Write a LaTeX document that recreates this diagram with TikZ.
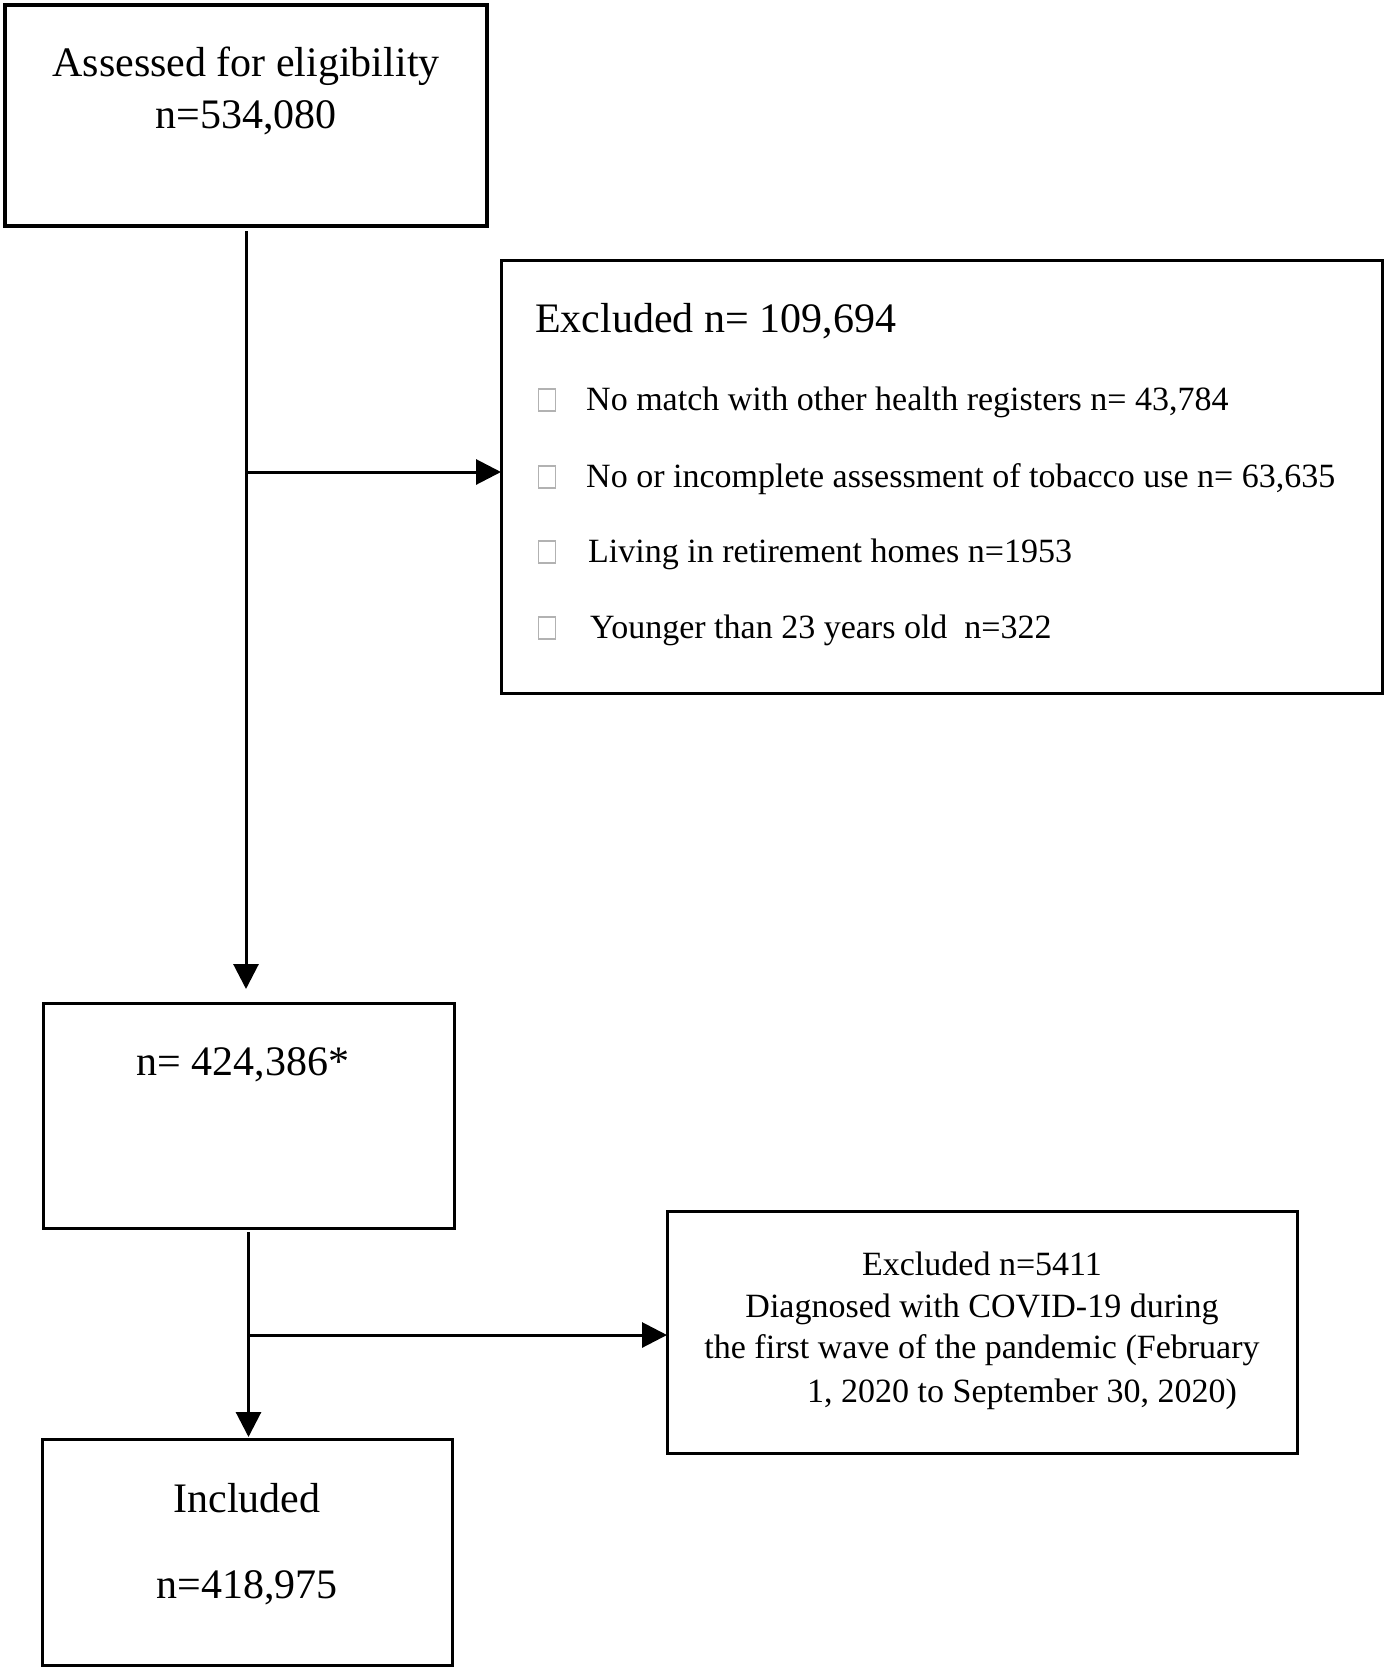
\documentclass[tikz,border=0pt]{standalone}
\usepackage{fontspec}
\setmainfont{Liberation Serif}
\usetikzlibrary{arrows.meta}
\begin{document}
\begin{tikzpicture}[x=1pt,y=-1pt,
  box/.style={draw=black, line width=3pt, inner sep=0pt, outer sep=0pt},
  big/.style={font=\fontsize{42}{50}\selectfont, inner sep=0pt, anchor=base},
  small/.style={font=\fontsize{34}{42}\selectfont, inner sep=0pt, anchor=base},
  chk/.style={draw=gray!60, line width=1.5pt, minimum width=17pt, minimum height=22pt, inner sep=0pt},
  conn/.style={line width=3pt, draw=black},
  arr/.style={conn, -{Triangle[length=25pt,width=25pt]}}]
\useasboundingbox (0,0) rectangle (1386,1670);

% boxes
\node[box, line width=3.5pt, minimum width=482pt, minimum height=221pt] (b1) at (246,115.5) {};
\node[box, minimum width=881pt, minimum height=433pt] (excl) at (941.5,476.5) {};
\node[box, minimum width=411pt, minimum height=225pt] (b2) at (248.5,1115.5) {};
\node[box, minimum width=630pt, minimum height=242pt] (excl2) at (982,1332) {};
\node[box, minimum width=410pt, minimum height=226pt] (b3) at (247,1552) {};

% box 1 text
\node[big] (t1a) at (246,77) {Assessed for eligibility};
\node[big] (t1b) at (246,128) {n=534,080};

% excluded box text
\node[big, anchor=base west] (ex0) at (535,332) {Excluded n= 109,694};
\node[chk] (c1) at (547,400) {};
\node[chk] (c2) at (547,477) {};
\node[chk] (c3) at (547,552) {};
\node[chk] (c4) at (547,628) {};
\node[small, anchor=base west] (ex1) at (586,410) {No match with other health registers n= 43,784};
\node[small, anchor=base west] (ex2) at (586,487) {No or incomplete assessment of tobacco use n= 63,635};
\node[small, anchor=base west] (ex3) at (588,562) {Living in retirement homes n=1953};
\node[small, anchor=base west] (ex4) at (590,638) {Younger than 23 years old\ \ n=322};

% box 2 text
\node[big] (t2) at (243,1075) {n= 424,386*};

% excluded 2 text
\node[small] (e2a) at (982,1275) {Excluded n=5411};
\node[small] (e2b) at (982,1317) {Diagnosed with COVID-19 during};
\node[small] (e2c) at (982,1358) {the first wave of the pandemic (February};
\node[small] (e2d) at (1022,1402) {1, 2020 to September 30, 2020)};

% box 3 text
\node[big] (t3a) at (247,1512) {Included};
\node[big] (t3b) at (247,1598) {n=418,975};

% connectors
\coordinate (j1) at (b1.south |- 0,472);
\coordinate (j2) at (b2.south |- 0,1335);
\draw[arr, shorten >=14pt] ([yshift=-5pt]b1.south) -- (b1.south |- b2.north);
\draw[arr] (j1) -- (j1 -| excl.west);
\draw[arr, shorten >=2pt] ([yshift=-4pt]b2.south) -- (b2.south |- b3.north);
\draw[arr] (j2) -- (j2 -| excl2.west);
\end{tikzpicture}
\end{document}
